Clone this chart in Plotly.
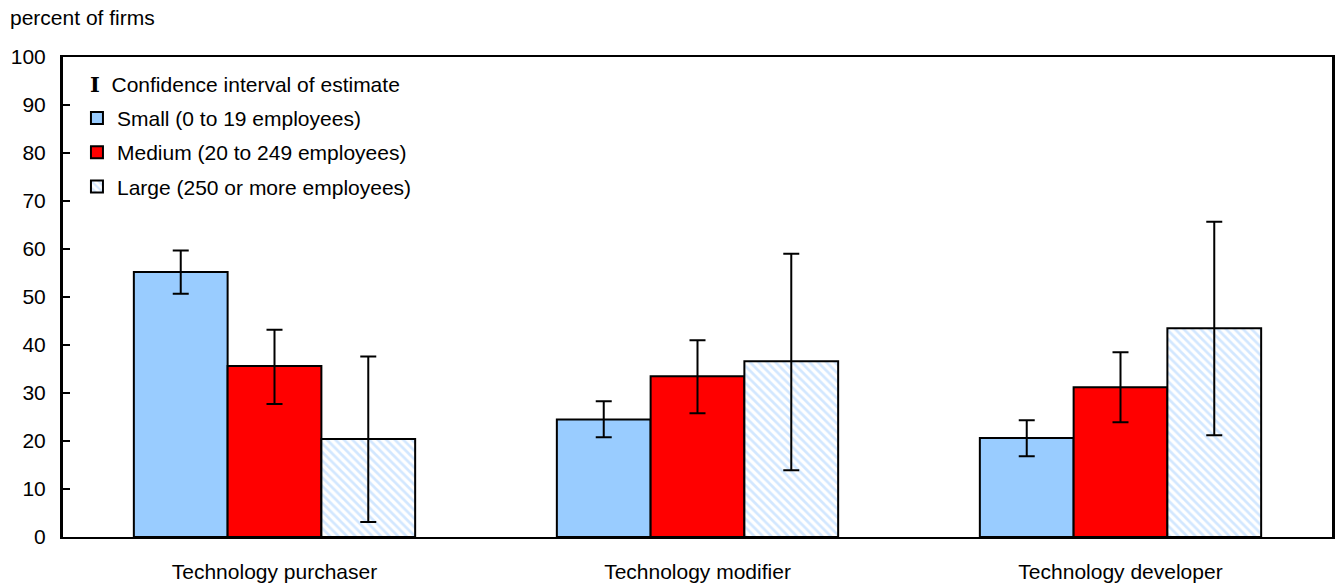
import plotly.graph_objects as go

categories = ["Technology purchaser", "Technology modifier", "Technology developer"]
series_names = ["Small (0 to 19 employees)", "Medium (20 to 249 employees)", "Large (250 or more employees)"]

small_vals = [55.2, 24.5, 20.6]
small_hi = [59.7, 28.3, 24.3]
small_lo = [50.7, 20.8, 16.8]

medium_vals = [35.6, 33.5, 31.2]
medium_hi = [43.2, 41.0, 38.5]
medium_lo = [27.7, 25.8, 23.9]

large_vals = [20.4, 36.6, 43.5]
large_hi = [37.6, 59.0, 65.7]
large_lo = [3.1, 13.9, 21.2]

y_ticks = list(range(0, 101, 10))

FONT = "Liberation Sans, Arial, Helvetica, sans-serif"
FS = 21


def err(vals, hi, lo):
    return dict(
        type="data",
        symmetric=False,
        array=[h - v for h, v in zip(hi, vals)],
        arrayminus=[v - l for v, l in zip(vals, lo)],
        color="black",
        thickness=2,
        width=8,
    )


fig = go.Figure()
fig.add_trace(go.Bar(
    name=series_names[0], x=categories, y=small_vals, legendgroup="s",
    marker=dict(color="#99ccff", line=dict(color="black", width=2)),
    error_y=err(small_vals, small_hi, small_lo),
))
fig.add_trace(go.Bar(
    name=series_names[1], x=categories, y=medium_vals, legendgroup="m",
    marker=dict(color="#ff0000", line=dict(color="black", width=2)),
    error_y=err(medium_vals, medium_hi, medium_lo),
))
fig.add_trace(go.Bar(
    name=series_names[2], x=categories, y=large_vals, legendgroup="l",
    marker=dict(
        color="white",
        line=dict(color="black", width=2),
        pattern=dict(shape="\\", fgcolor="#a6cfff", bgcolor="white", size=6, solidity=0.45),
    ),
    error_y=err(large_vals, large_hi, large_lo),
))

fig.update_layout(
    width=1337, height=585,
    margin=dict(l=63, r=2, t=57, b=45),
    paper_bgcolor="white", plot_bgcolor="white",
    font=dict(family=FONT, size=FS, color="black"),
    barmode="group", bargap=0.335, bargroupgap=0,
    showlegend=True,
    legend=dict(
        x=0.011, y=0.915, xanchor="left", yanchor="top",
        bgcolor="rgba(0,0,0,0)", tracegroupgap=4,
        font=dict(family=FONT, size=FS),
    ),
    xaxis=dict(
        showline=True, linecolor="black", linewidth=2, mirror=True,
        ticks="", showgrid=False, ticklabelstandoff=15,
        tickfont=dict(family=FONT, size=FS),
    ),
    yaxis=dict(
        range=[0, 100], tickvals=y_ticks,
        showline=True, linecolor="black", linewidth=3, mirror=True,
        ticks="inside", ticklen=7, tickwidth=2, tickcolor="black",
        showgrid=False, zeroline=False, ticklabelstandoff=10,
        tickfont=dict(family=FONT, size=FS),
    ),
    annotations=[
        dict(text="percent of firms", xref="paper", yref="paper", x=-0.043, y=1.0,
             yshift=26, xanchor="left", yanchor="bottom", showarrow=False,
             font=dict(family=FONT, size=FS)),
        dict(text="<span style='font-family:DejaVu Serif;font-weight:bold'>I</span>  Confidence interval of estimate",
             xref="paper", yref="paper", x=0.020, y=0.943, xanchor="left", yanchor="middle",
             showarrow=False, font=dict(family=FONT, size=FS)),
    ],
)

fig.write_html("out.html")
